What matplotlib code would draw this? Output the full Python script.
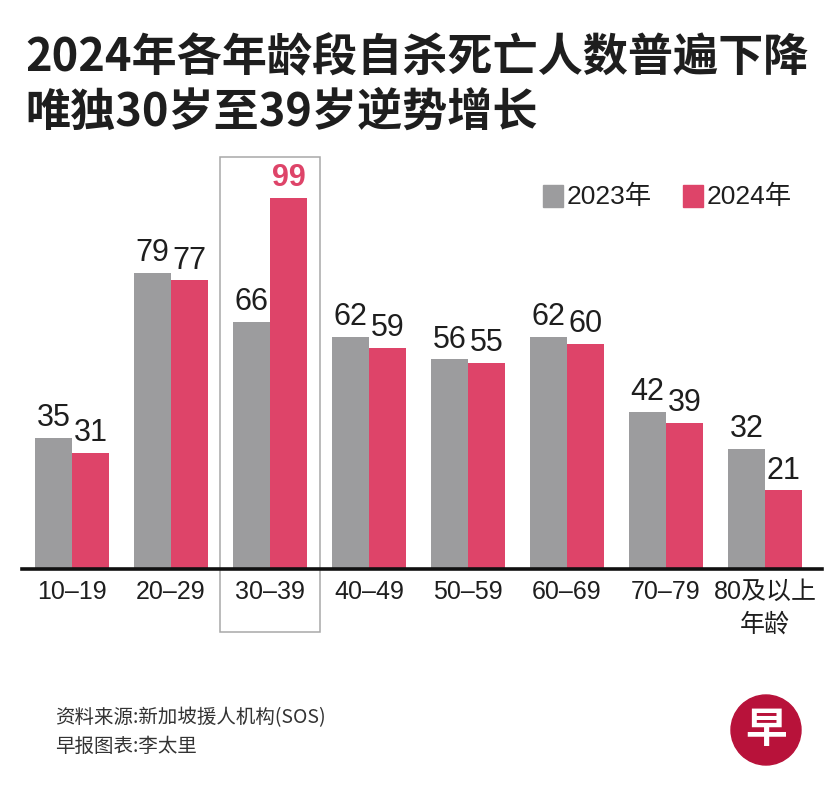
import matplotlib.pyplot as plt
from matplotlib.patches import Rectangle, Ellipse

plt.rcParams['font.family'] = ['Liberation Sans', 'Noto Sans CJK SC', 'DejaVu Sans']

age_groups = ['10–19', '20–29', '30–39', '40–49', '50–59', '60–69', '70–79', '80及以上\n年龄']
deaths_2023 = [35, 79, 66, 62, 56, 62, 42, 32]
deaths_2024 = [31, 77, 99, 59, 55, 60, 39, 21]

GRAY = '#9c9c9e'
PINK = '#de4469'
TEXT = '#1e1e1e'

W, H = 834, 799


def fx(x):
    return x / W


def fy(y):
    return 1 - y / H


fig = plt.figure(figsize=(W / 100, H / 100), dpi=100)
fig.patch.set_facecolor('white')

# bar area: baseline at y=569px, 3.75 px per person
ax = fig.add_axes([fx(22), fy(569), fx(800), 412.5 / H])
ax.set_xlim(-0.505, 7.576)
ax.set_ylim(0, 110)

bw = 0.374
xs = list(range(len(age_groups)))
ax.bar([x - bw / 2 for x in xs], deaths_2023, width=bw, color=GRAY)
ax.bar([x + bw / 2 for x in xs], deaths_2024, width=bw, color=PINK)

for x, v in zip(xs, deaths_2023):
    ax.text(x - bw / 2, v + 1.2, str(v), ha='center', va='bottom', fontsize=22, color=TEXT)
for x, v in zip(xs, deaths_2024):
    if v == max(deaths_2024):
        ax.text(x + bw / 2, v + 1.2, str(v), ha='center', va='bottom', fontsize=22,
                color=PINK, fontweight='bold')
    else:
        ax.text(x + bw / 2, v + 1.2, str(v), ha='center', va='bottom', fontsize=22, color=TEXT)

ax.set_xticks(xs)
ax.set_xticklabels(age_groups, fontsize=18, color=TEXT, linespacing=1.45)
ax.tick_params(axis='x', length=0, pad=8)
ax.set_yticks([])
for s in ['top', 'left', 'right']:
    ax.spines[s].set_visible(False)
ax.spines['bottom'].set_linewidth(2.6)
ax.spines['bottom'].set_color('#111111')

# highlight box round the 30-39 group
ax.add_patch(Rectangle((2 - 0.505, -16.8), 1.01, 126.7, fill=False, ec='#a8a8a8',
                       lw=1.1, clip_on=False))

# title
fig.text(fx(25), fy(58), '2024年各年龄段自杀死亡人数普遍下降', fontsize=32.5, fontweight='bold',
         color=TEXT, va='center', family=['Noto Sans CJK SC'])
fig.text(fx(25), fy(113), '唯独30岁至39岁逆势增长', fontsize=32.5, fontweight='bold',
         color=TEXT, va='center', family=['Noto Sans CJK SC'])

# legend
fig.patches.append(Rectangle((fx(543), fy(207)), fx(20), 22 / H, color=GRAY,
                             transform=fig.transFigure, figure=fig))
fig.text(fx(567), fy(197), '2023年', fontsize=19, color=TEXT, va='center')
fig.patches.append(Rectangle((fx(683), fy(207)), fx(20), 22 / H, color=PINK,
                             transform=fig.transFigure, figure=fig))
fig.text(fx(707), fy(197), '2024年', fontsize=19, color=TEXT, va='center')

# footer
fig.text(fx(55), fy(718), '资料来源:新加坡援人机构(SOS)', fontsize=14, color='#333333',
         va='center', family=['Noto Sans CJK SC'])
fig.text(fx(55), fy(746), '早报图表:李太里', fontsize=14, color='#333333',
         va='center', family=['Noto Sans CJK SC'])

# logo
fig.patches.append(Ellipse((fx(766), fy(730)), fx(70), 70 / H, color='#b8123a',
                           transform=fig.transFigure, figure=fig))
fig.text(fx(766), fy(730), '早', fontsize=30, fontweight='bold', color='white',
         ha='center', va='center', family=['Noto Sans CJK SC'])

fig.savefig('out.png', dpi=100, facecolor='white')
